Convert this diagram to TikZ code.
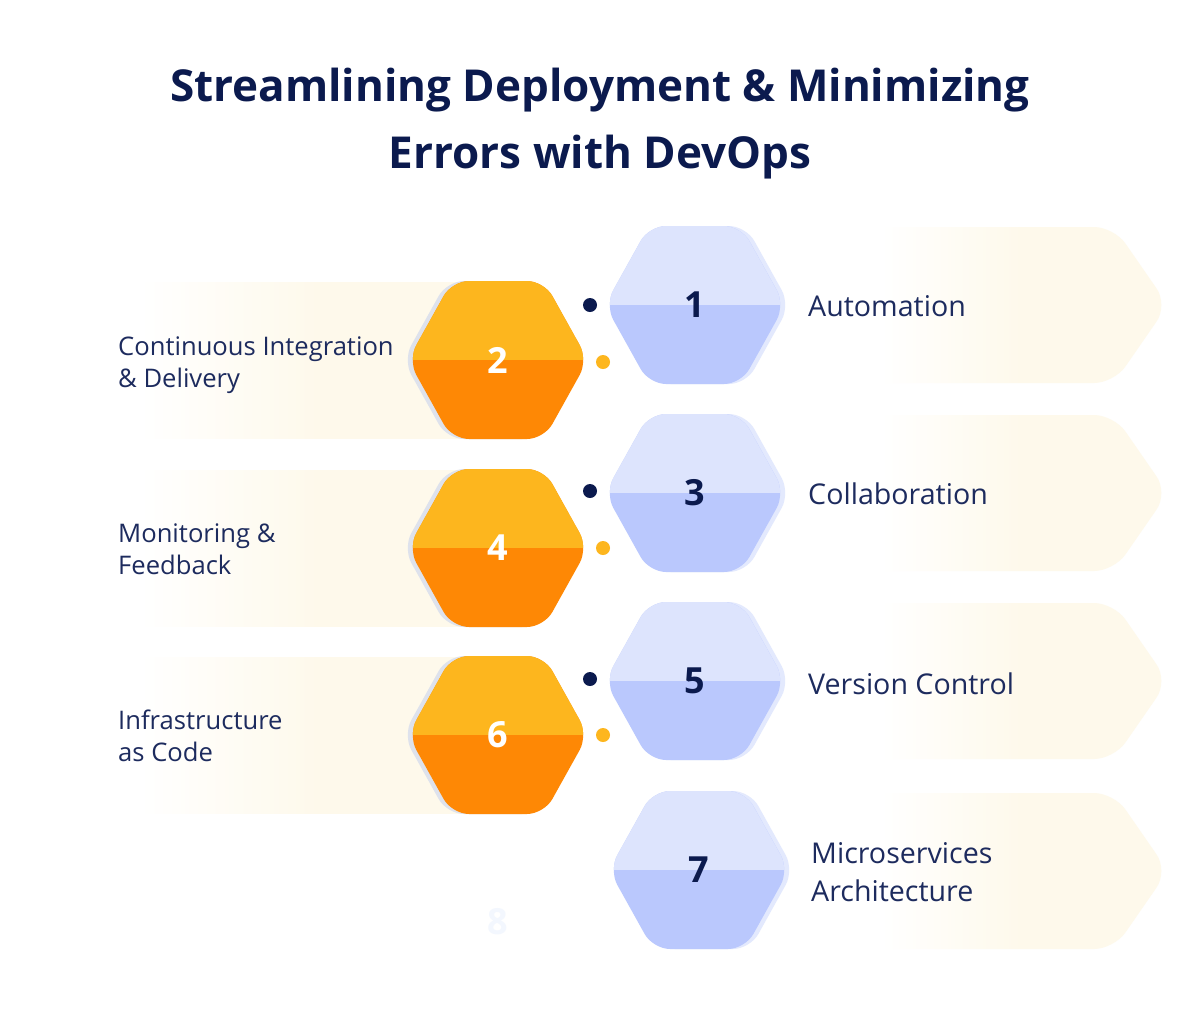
\documentclass[tikz,border=0pt]{standalone}
\usepackage{fontspec}
\setmainfont{Open Sans}
\definecolor{navy}{HTML}{0B1A4E}
\definecolor{labelcol}{HTML}{1D2B5E}
\definecolor{cream}{HTML}{FEF9EB}
\definecolor{bluetop}{HTML}{DDE4FD}
\definecolor{bluelow}{HTML}{BAC8FD}
\definecolor{blueshade}{HTML}{E3E9FD}
\definecolor{orangetop}{HTML}{FDB61E}
\definecolor{orangelow}{HTML}{FE8805}
\definecolor{greyshade}{HTML}{DEE2EC}
\definecolor{ghost}{HTML}{F3F7FE}
\pgfdeclarehorizontalshading{bandright}{100bp}{color(0bp)=(white); color(38bp)=(white); color(56bp)=(cream); color(100bp)=(cream)}
\pgfdeclarehorizontalshading{bandleft}{100bp}{color(0bp)=(white); color(25bp)=(white); color(52bp)=(cream); color(100bp)=(cream)}
% hexagon round a centre, flat top and bottom
\newcommand{\hexpath}[2]{(#1,#2-79) -- (#1+46,#2-79) -- (#1+90,#2) -- (#1+46,#2+79)
  -- (#1-46,#2+79) -- (#1-90,#2) -- (#1-46,#2-79) -- cycle}
\begin{document}
\begin{tikzpicture}[x=1pt,y=-1pt,
    hexa/.style={rounded corners=17pt},
    band/.style={rounded corners=20pt},
    numblue/.style={text=navy,font=\fontsize{36}{36}\selectfont\bfseries},
    numorange/.style={text=white,font=\fontsize{36}{36}\selectfont\bfseries},
    labright/.style={text=labelcol,anchor=west,align=left,inner sep=0pt,font=\fontsize{28.6}{38}\selectfont},
    lableft/.style={text=labelcol,anchor=west,align=left,inner sep=0pt,font=\fontsize{25.6}{32}\selectfont},
    dot/.style={circle,inner sep=0pt,minimum size=14pt}]
  \useasboundingbox[fill=white] (0,0) rectangle (1200,1029);
  % ------ title -----------------------------
  \node[text=navy,align=center,font=\fontsize{44}{67}\selectfont\bfseries] (title) at (600,124)
    {Streamlining Deployment \& Minimizing\\Errors with DevOps};
  % ------ bands -----------------------------
  \foreach \y in {305,493,681,871}
    \shade[band,shading=bandright] (780,\y-78) -- (1114,\y-78) -- (1168,\y) -- (1114,\y+78) -- (780,\y+78) -- cycle;
  \foreach \y in {360,548,735}
    \shade[shading=bandleft] (140,\y-78) rectangle (470,\y+78);
  % ------ orange cells ----------------------
  \foreach \n/\x/\y in {2/498/360,4/498/548,6/498/735} {
    \fill[hexa,greyshade] \hexpath{\x-5}{\y};
    \fill[hexa,orangelow] \hexpath{\x}{\y};
    \begin{scope}
      \clip[hexa] \hexpath{\x}{\y};
      \fill[orangetop] (\x-100,\y-90) rectangle (\x+100,\y);
    \end{scope}
    \node[numorange] (cell\n) at (\x,\y) {\n};
  }
  % ------ blue cells ------------------------
  \foreach \n/\x/\y in {1/695/305,3/695/493,5/695/681,7/699/870} {
    \fill[hexa,blueshade] \hexpath{\x+5}{\y};
    \fill[hexa,bluelow] \hexpath{\x}{\y};
    \begin{scope}
      \clip[hexa] \hexpath{\x}{\y};
      \fill[bluetop] (\x-100,\y-90) rectangle (\x+100,\y);
    \end{scope}
    \node[numblue] (cell\n) at (\x,\y) {\n};
  }
  \node[text=ghost,font=\fontsize{36}{36}\selectfont\bfseries] (cell8) at (498,922) {8};
  % ------ dots ------------------------------
  \foreach \y in {305,491,679}
    \node[dot,fill=navy] at (590,\y) {};
  \foreach \y in {362,548,735}
    \node[dot,fill=orangetop] at (603,\y) {};
  % ------ labels ----------------------------
  \node[labright] (lab1) at (808,306) {Automation};
  \node[labright] (lab3) at (808,494) {Collaboration};
  \node[labright] (lab5) at (808,684) {Version Control};
  \node[labright] (lab7) at (811,872) {Microservices\\Architecture};
  \node[lableft] (lab2) at (118,365) {Continuous Integration\\\& Delivery};
  \node[lableft] (lab4) at (118,549) {Monitoring \&\\Feedback};
  \node[lableft] (lab6) at (118,736) {Infrastructure\\as Code};
\end{tikzpicture}
\end{document}
